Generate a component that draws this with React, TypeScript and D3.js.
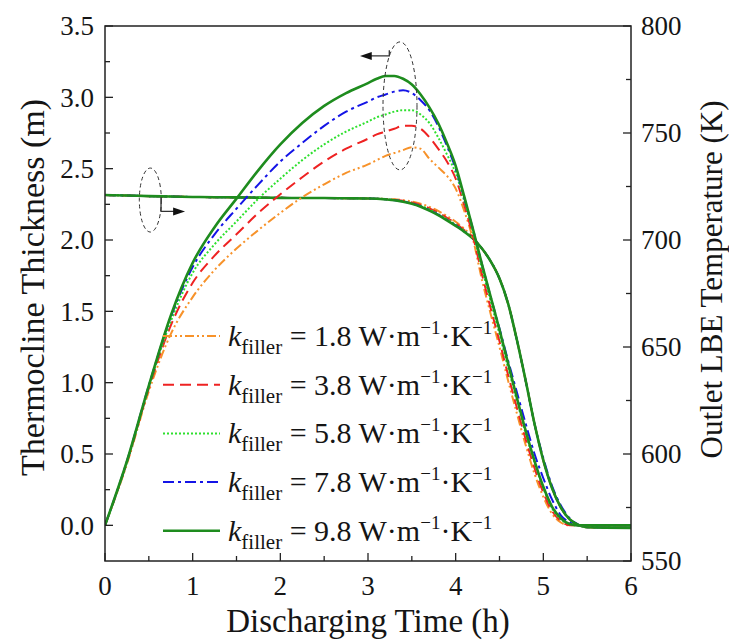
import React from "react";
import * as d3 from "d3";

// ---------- data ----------
const times = [0, 0.25, 0.5, 0.75, 1, 1.25, 1.5, 1.75, 2, 2.25, 2.5, 2.75, 3, 3.1, 3.2, 3.3, 3.4, 3.5, 3.6, 3.7, 3.8, 3.9, 4.0, 4.1, 4.2, 4.3, 4.4, 4.5, 4.6, 4.7, 4.8, 4.9, 5.0, 5.1, 5.2, 5.3, 5.4, 5.5, 6.0];

// Thermocline thickness (m), left axis
const thick18 = [0, 0.43, 0.94, 1.34, 1.6, 1.79, 1.94, 2.07, 2.19, 2.3, 2.39, 2.47, 2.53, 2.56, 2.59, 2.61, 2.63, 2.65, 2.64, 2.57, 2.51, 2.45, 2.36, 2.2, 2.0, 1.72, 1.48, 1.25, 1.01, 0.78, 0.56, 0.36, 0.2, 0.08, 0.02, 0, 0, 0, 0];
const thick38 = [0, 0.44, 0.96, 1.4, 1.7, 1.89, 2.04, 2.19, 2.32, 2.44, 2.55, 2.64, 2.71, 2.74, 2.76, 2.78, 2.8, 2.8, 2.78, 2.72, 2.64, 2.55, 2.43, 2.24, 2.02, 1.76, 1.52, 1.29, 1.05, 0.82, 0.6, 0.4, 0.23, 0.1, 0.03, 0, 0, 0, 0];
const thick58 = [0, 0.44, 0.97, 1.43, 1.77, 1.97, 2.13, 2.29, 2.43, 2.56, 2.67, 2.76, 2.83, 2.86, 2.88, 2.9, 2.91, 2.91, 2.88, 2.82, 2.72, 2.6, 2.47, 2.27, 2.05, 1.8, 1.57, 1.34, 1.1, 0.87, 0.64, 0.44, 0.26, 0.12, 0.04, 0.01, 0, 0, 0];
const thick78 = [0, 0.45, 0.98, 1.46, 1.81, 2.04, 2.22, 2.39, 2.55, 2.68, 2.8, 2.9, 2.97, 3.0, 3.02, 3.04, 3.05, 3.03, 2.98, 2.91, 2.8, 2.66, 2.5, 2.29, 2.07, 1.83, 1.6, 1.38, 1.15, 0.93, 0.71, 0.5, 0.33, 0.18, 0.07, 0.02, 0, 0, 0];
const thick98 = [0, 0.45, 0.98, 1.47, 1.84, 2.09, 2.29, 2.49, 2.67, 2.82, 2.94, 3.03, 3.1, 3.13, 3.15, 3.15, 3.13, 3.09, 3.02, 2.93, 2.82, 2.68, 2.52, 2.3, 2.07, 1.83, 1.6, 1.37, 1.13, 0.89, 0.66, 0.45, 0.27, 0.13, 0.05, 0.01, 0, 0, 0];

// Outlet LBE temperature (K), right axis
const temp18 = [721, 720.8, 720.5, 720.3, 720.1, 720, 719.9, 719.8, 719.7, 719.6, 719.6, 719.5, 719.4, 719.3, 719.2, 719, 718.6, 718, 717, 715.5, 713.6, 711.2, 708.5, 705.2, 701.2, 696, 690, 682, 670, 653, 634, 614, 597, 584, 575, 569.5, 566.8, 565.8, 565.5];
const temp38 = [721, 720.8, 720.5, 720.3, 720.1, 720, 719.9, 719.8, 719.7, 719.6, 719.6, 719.5, 719.4, 719.3, 719.1, 718.8, 718.3, 717.5, 716.4, 714.8, 712.8, 710.4, 707.7, 704.6, 700.9, 696, 690, 682, 670, 653, 634, 614, 597, 584, 575, 569.5, 566.8, 565.8, 565.5];
const temp58 = [721, 720.8, 720.5, 720.3, 720.1, 720, 719.9, 719.8, 719.7, 719.6, 719.6, 719.5, 719.4, 719.3, 719.1, 718.7, 718.1, 717.2, 716, 714.3, 712.2, 709.8, 707.2, 704.2, 700.7, 696, 690, 682, 670, 653, 634, 614, 597, 584, 575, 569.5, 566.8, 565.8, 565.5];
const temp78 = [721, 720.8, 720.5, 720.3, 720.1, 720, 719.9, 719.8, 719.7, 719.6, 719.6, 719.5, 719.4, 719.3, 719, 718.6, 718, 717, 715.7, 713.9, 711.8, 709.4, 706.8, 704, 700.6, 696, 690, 682, 670, 653, 634, 614, 598, 585, 576, 570, 567, 565.8, 565.5];
const temp98 = [721, 720.8, 720.5, 720.3, 720.1, 720, 719.9, 719.8, 719.7, 719.6, 719.6, 719.5, 719.4, 719.3, 719, 718.6, 717.9, 716.9, 715.5, 713.7, 711.6, 709.2, 706.6, 703.8, 700.5, 696, 690, 682, 670, 653, 634, 614, 597, 584, 575, 569.5, 566.8, 565.8, 565.5];

const kValues = ["1.8", "3.8", "5.8", "7.8", "9.8"];
const colors = ["#F7922A", "#EE2222", "#2EE02E", "#1414E6", "#1E8C1E"];
const dashes = ["9,3,2,3,2,3", "11,6", "2,2", "11,4,3,4", ""];
const widths = [2, 2, 2, 2, 2.6];
const thickSeries = [thick18, thick38, thick58, thick78, thick98];
const tempSeries = [temp18, temp38, temp58, temp78, temp98];

const xTicks = [0, 1, 2, 3, 4, 5, 6];
const xMinor = [0.5, 1.5, 2.5, 3.5, 4.5, 5.5];
const leftTicks = [0, 0.5, 1, 1.5, 2, 2.5, 3, 3.5];
const leftMinor = [0.25, 0.75, 1.25, 1.75, 2.25, 2.75, 3.25];
const rightTicks = [550, 600, 650, 700, 750, 800];
const rightMinor = [575, 625, 675, 725, 775];

const FONT = "Liberation Serif";

export default function App() {
  const W = 729, H = 641;
  const L = 105, R = 631, T = 26, B = 561;
  const x = d3.scaleLinear().domain([0, 6]).range([L, R]);
  const yL = d3.scaleLinear().domain([-0.25, 3.5]).range([B, T]);
  const yR = d3.scaleLinear().domain([550, 800]).range([B, T]);

  const lineL = d3.line<number>().x((_, i) => x(times[i])).y((d) => yL(d)).curve(d3.curveMonotoneX);
  const lineR = d3.line<number>().x((_, i) => x(times[i])).y((d) => yR(d)).curve(d3.curveMonotoneX);

  const legendY0 = 336, legendDy = 48.7;
  const txt = "#151515";
  const ts = { fontFamily: FONT };

  // annotation anchors (data coordinates)
  const e1 = { t: 0.517, v: 2.28 };
  const e2 = { t: 3.365, v: 2.94 };

  return (
    <svg width={W} height={H} style={{ position: "absolute", left: 0, top: 0, background: "#fff" }}>
      <rect x={0} y={0} width={W} height={H} fill="#fff" />
      <defs>
        <clipPath id="plot">
          <rect x={L} y={T} width={R - L} height={B - T} />
        </clipPath>
      </defs>

      {/* curves */}
      <g clipPath="url(#plot)" fill="none">
        {tempSeries.map((s, i) => (
          <path key={"t" + i} d={lineR(s) || ""} stroke={colors[i]} strokeWidth={widths[i]} strokeDasharray={dashes[i]} />
        ))}
        {thickSeries.map((s, i) => (
          <path key={"k" + i} d={lineL(s) || ""} stroke={colors[i]} strokeWidth={widths[i]} strokeDasharray={dashes[i]} />
        ))}
      </g>

      {/* annotations */}
      <g stroke="#333" fill="none" strokeWidth={1}>
        <ellipse cx={x(e1.t)} cy={yL(e1.v)} rx={11} ry={32} strokeDasharray="4,3" />
        <ellipse cx={x(e2.t)} cy={yL(e2.v)} rx={17} ry={64} strokeDasharray="4,3" />
        <path d={`M${x(0.639)},${yL(2.3)} V${yL(2.2)} H${x(0.8)}`} strokeWidth={1.3} />
        <path d={`M${x(3.243)},${yL(3.33)} V${yL(3.29)} H${x(3.02)}`} strokeWidth={1.3} />
      </g>
      <polygon
        points={`${x(0.8) - 2},${yL(2.2) - 4} ${x(0.913)},${yL(2.2)} ${x(0.8) - 2},${yL(2.2) + 4}`}
        fill="#111"
      />
      <polygon
        points={`${x(3.02) + 2},${yL(3.29) - 4} ${x(2.909)},${yL(3.29)} ${x(3.02) + 2},${yL(3.29) + 4}`}
        fill="#111"
      />

      {/* legend */}
      {kValues.map((k, i) => {
        const ly = legendY0 + i * legendDy;
        return (
          <g key={"lg" + i}>
            <line x1={163} x2={220} y1={ly} y2={ly} stroke={colors[i]} strokeWidth={widths[i]} strokeDasharray={dashes[i]} />
            <text x={228} y={ly + 10} fontSize={30} fill={txt} style={ts}>
              <tspan fontStyle="italic">k</tspan>
              <tspan fontSize={21} dy={8}>filler</tspan>
              <tspan dy={-8}>{` = ${k} W·m`}</tspan>
              <tspan fontSize={19} dy={-12}>−1</tspan>
              <tspan dy={12}>·K</tspan>
              <tspan fontSize={19} dy={-12}>−1</tspan>
            </text>
          </g>
        );
      })}

      {/* frame */}
      <rect x={L} y={T} width={R - L} height={B - T} fill="none" stroke="#222" strokeWidth={1.5} />

      {/* ticks */}
      <g stroke="#222" strokeWidth={1.3}>
        {xTicks.map((t) => (
          <line key={"xt" + t} x1={x(t)} x2={x(t)} y1={B} y2={B - 8} />
        ))}
        {xMinor.map((t) => (
          <line key={"xm" + t} x1={x(t)} x2={x(t)} y1={B} y2={B - 5} />
        ))}
        {leftTicks.map((t) => (
          <line key={"lt" + t} x1={L} x2={L + 8} y1={yL(t)} y2={yL(t)} />
        ))}
        {leftMinor.map((t) => (
          <line key={"lm" + t} x1={L} x2={L + 5} y1={yL(t)} y2={yL(t)} />
        ))}
        {rightTicks.map((t) => (
          <line key={"rt" + t} x1={R} x2={R - 8} y1={yR(t)} y2={yR(t)} />
        ))}
        {rightMinor.map((t) => (
          <line key={"rm" + t} x1={R} x2={R - 5} y1={yR(t)} y2={yR(t)} />
        ))}
      </g>

      {/* tick labels */}
      <g fontSize={27} fill={txt} style={ts}>
        {xTicks.map((t) => (
          <text key={"xl" + t} x={x(t)} y={595} textAnchor="middle" style={ts}>{String(t)}</text>
        ))}
        {leftTicks.map((t) => (
          <text key={"ll" + t} x={94} y={yL(t)} dy="0.35em" textAnchor="end" style={ts}>{t.toFixed(1)}</text>
        ))}
        {rightTicks.map((t) => (
          <text key={"rl" + t} x={641} y={yR(t)} dy="0.35em" textAnchor="start" style={ts}>{String(t)}</text>
        ))}
      </g>

      {/* axis titles */}
      <text x={(L + R) / 2} y={632} fontSize={33} textAnchor="middle" fill={txt} style={ts}>Discharging Time (h)</text>
      <text transform={`translate(44, ${(T + B) / 2 - 6}) rotate(-90)`} fontSize={34} textAnchor="middle" fill={txt} style={ts}>
        Thermocline Thickness (m)
      </text>
      <text transform={`translate(722, ${(T + B) / 2 - 14}) rotate(-90)`} fontSize={31} textAnchor="middle" fill={txt} style={ts}>
        Outlet LBE Temperature (K)
      </text>
    </svg>
  );
}
